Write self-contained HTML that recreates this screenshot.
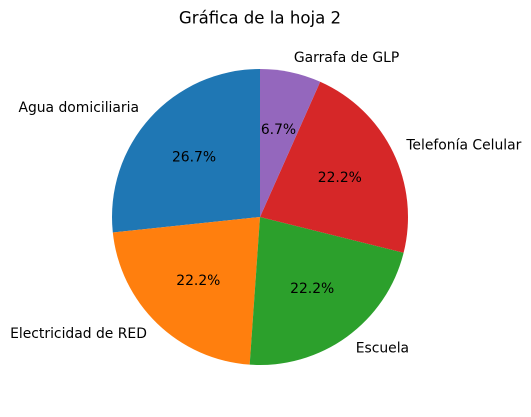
<!DOCTYPE html>
<html><head><meta charset="utf-8"><style>
body{margin:0;background:#fff;}
svg text{font-family:"DejaVu Sans","Liberation Sans",sans-serif;}
</style></head><body>
<svg id="chart" width="531" height="412" viewBox="0 0 531 412">
<text x="260" y="18" font-size="16.6" text-anchor="middle" dominant-baseline="central">Gráfica de la hoja 2</text>
<g id="slices"></g>
</svg>
<script>
const categories = ["Agua domiciliaria","Electricidad de RED","Escuela","Telefonía Celular","Garrafa de GLP"];
const values = [12,10,10,10,3];
const colors = ["#1f77b4","#ff7f0e","#2ca02c","#d62728","#9467bd"];
const cx=260, cy=217, r=148;
const ns="http://www.w3.org/2000/svg";
const g=document.getElementById('slices');
const total=values.reduce((a,b)=>a+b,0);
let start=90;
function pt(deg,rad){const t=deg*Math.PI/180;return [cx+rad*Math.cos(t), cy-rad*Math.sin(t)];}
values.forEach((v,i)=>{
  const sweep=v/total*360, end=start+sweep;
  const [x1,y1]=pt(start,r),[x2,y2]=pt(end,r);
  const p=document.createElementNS(ns,'path');
  p.setAttribute('d',`M${cx},${cy} L${x1},${y1} A${r},${r} 0 ${sweep>180?1:0} 0 ${x2},${y2} Z`);
  p.setAttribute('fill',colors[i]);
  
  
  g.appendChild(p);
  const mid=(start+end)/2;
  const [lx,ly]=pt(mid,r*1.1);
  const lt=document.createElementNS(ns,'text');
  lt.setAttribute('x',lx);lt.setAttribute('y',ly);
  lt.setAttribute('font-size','13.9');
  lt.setAttribute('dominant-baseline','central');
  lt.setAttribute('text-anchor',lx>=cx?'start':'end');
  lt.textContent=categories[i];
  
  
  g.appendChild(lt);
  const [px,py]=pt(mid,r*0.6);
  const pt2=document.createElementNS(ns,'text');
  pt2.setAttribute('x',px);pt2.setAttribute('y',py);
  pt2.setAttribute('font-size','13.9');
  pt2.setAttribute('dominant-baseline','central');
  pt2.setAttribute('text-anchor','middle');
  pt2.textContent=(v/total*100).toFixed(1)+'%';
  
  
  g.appendChild(pt2);
  start=end;
});
</script>
</body></html>
